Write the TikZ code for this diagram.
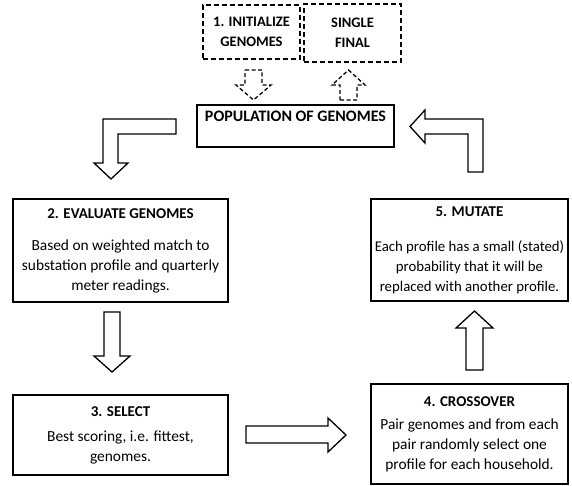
\documentclass[tikz,border=0pt]{standalone}
\usepackage{fontspec}
\setmainfont{Carlito}
\newcommand{\ttl}[1]{{\fontsize{15}{20}\selectfont\bfseries #1}}
\begin{document}
\begin{tikzpicture}[x=1pt,y=-1pt,
  every node/.style={font=\fontsize{15.4}{20}\selectfont},
  stepbox/.style={draw=black, line width=1.7pt, rectangle, align=center, inner sep=0pt},
  dashbox/.style={draw=black, line width=1.7pt, dash pattern=on 5pt off 3pt, rectangle, align=center, inner sep=0pt, font=\fontsize{14.5}{20}\selectfont\bfseries},
  blockarrow/.style={draw=black, line width=1.3pt, fill=white, line join=miter},
  dasharrow/.style={draw=black, line width=1.3pt, dash pattern=on 4pt off 2.5pt, fill=white, line join=miter}
]
\useasboundingbox (0,0) rectangle (572,486);

% boxes
\node[dashbox, minimum width=97pt, minimum height=54pt] (init) at (251.5,32) {1. INITIALIZE\\GENOMES};
\node[dashbox, minimum width=97pt, minimum height=58pt] (final) at (352.5,33) {SINGLE\\FINAL};
\node[stepbox, minimum width=197pt, minimum height=42pt] (pop) at (295.5,126) {{\fontsize{16}{20}\selectfont\bfseries POPULATION OF GENOMES}\\[-6pt]\strut};
\node[stepbox, minimum width=215pt, minimum height=103pt] (eval) at (120.5,250.5) {\ttl{2. EVALUATE GENOMES}\\[12pt]Based on weighted match to\\substation profile and quarterly\\meter readings.};
\node[stepbox, minimum width=197pt, minimum height=102pt, font=\fontsize{14.8}{20}\selectfont] (mut) at (469.5,250) {\ttl{5. MUTATE}\\[15pt]Each profile has a small (stated)\\probability that it will be\\replaced with another profile.};
\node[stepbox, minimum width=215pt, minimum height=80pt] (sel) at (120.5,435) {\ttl{3. SELECT}\\[5pt]Best scoring, i.e. fittest,\\genomes.};
\node[stepbox, minimum width=197pt, minimum height=100pt] (cross) at (469.5,434) {\ttl{4. CROSSOVER}\\[3pt]Pair genomes and from each\\pair randomly select one\\profile for each household.};

% dashed arrows
\draw[dasharrow] (245,70) -- (262,70) -- (262,85) -- (271,85) -- (253.5,100) -- (236,85) -- (245,85) -- cycle;
\draw[dasharrow] (340,100) -- (357,100) -- (357,85) -- (365,85) -- (348.5,70) -- (332,85) -- (340,85) -- cycle;

% bent arrow pop -> eval
\draw[blockarrow] (176,119) -- (103,119) -- (103,163) -- (94,163) -- (111,179) -- (128,163) -- (118,163) -- (118,134) -- (176,134) -- cycle;
% down arrow eval -> select
\draw[blockarrow] (104,312) -- (120,312) -- (120,356) -- (130,356) -- (112,372) -- (94,356) -- (104,356) -- cycle;
% right arrow select -> crossover
\draw[blockarrow] (246,426) -- (328,426) -- (328,418) -- (346,435) -- (328,452) -- (328,443) -- (246,443) -- cycle;
% up arrow crossover -> mutate
\draw[blockarrow] (466,370) -- (483,370) -- (483,328) -- (493,328) -- (474.5,311) -- (456,328) -- (466,328) -- cycle;
% bent arrow mutate -> pop
\draw[blockarrow] (483,172) -- (483,119) -- (425,119) -- (425,110) -- (410,126.5) -- (425,143) -- (425,134) -- (468,134) -- (468,172) -- cycle;
\end{tikzpicture}
\end{document}
